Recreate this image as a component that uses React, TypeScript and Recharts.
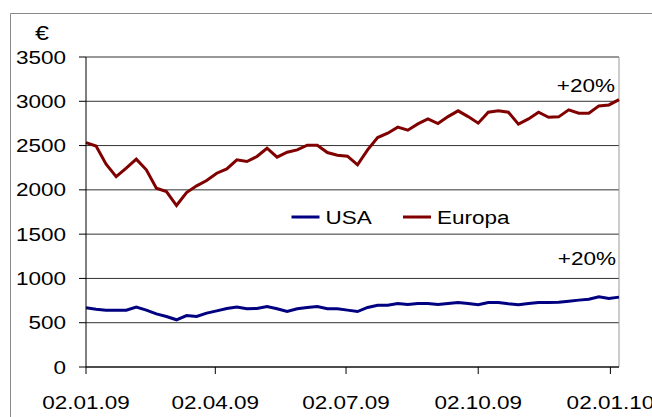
import { LineChart, Line, XAxis, YAxis, CartesianGrid, Legend, ReferenceLine } from "recharts";

// weekly closing values from 02.01.09 on
const usa = [
  668, 653, 642, 642, 642, 676, 642, 600, 570, 533,
  581, 570, 608, 634, 660, 676, 657, 660, 683, 657,
  626, 657, 672, 683, 657, 657, 642, 626, 672, 698,
  698, 717, 705, 717, 717, 705, 717, 728, 717, 702,
  728, 728, 713, 702, 717, 728, 728, 732, 743, 755,
  766, 792, 773, 789,
];
const europa = [
  2534, 2495, 2290, 2150, 2245, 2346, 2226, 2019, 1981, 1823,
  1970, 2045, 2105, 2188, 2237, 2339, 2320, 2377, 2470, 2369,
  2425, 2451, 2504, 2504, 2421, 2391, 2380, 2282, 2451, 2590,
  2640, 2708, 2674, 2745, 2801, 2748, 2827, 2892, 2827, 2753,
  2877, 2892, 2877, 2742, 2801, 2877, 2820, 2824, 2903, 2865,
  2865, 2948, 2959, 3019,
];
const seriesNames = ["USA", "Europa"];
const tickDays = [0, 90, 181, 273, 365];
const tickLabels = ["02.01.09", "02.04.09", "02.07.09", "02.10.09", "02.01.10"];
const yTicks = [0, 500, 1000, 1500, 2000, 2500, 3000, 3500];

const data = usa.map((u, i) => ({ day: i * 7, USA: u, Europa: europa[i] }));

const FONT = "'Liberation Sans', Arial, sans-serif";
const SX = 1.25;

const Stretched = ({ x, y, anchor, size = 18, children }: any) => (
  <g transform={`translate(${x},${y}) scale(${SX},1)`}>
    <text x={0} y={0} textAnchor={anchor} fontFamily={FONT} fontSize={size} fill="#000">
      {children}
    </text>
  </g>
);

const YTick = ({ y, payload }: any) => (
  <Stretched x={66} y={y + 6.5} anchor="end">{payload.value}</Stretched>
);

const XTick = ({ x, payload }: any) => (
  <Stretched x={x} y={409} anchor="middle">
    {tickLabels[tickDays.indexOf(payload.value)]}
  </Stretched>
);

const LegendBox = ({ payload }: any) => {
  const items = [...(payload || [])].sort(
    (a: any, b: any) => seriesNames.indexOf(a.value) - seriesNames.indexOf(b.value)
  );
  const starts = [1.5, 113];
  return (
    <svg width={240} height={24}>
      {items.map((it: any, i: number) => (
        <g key={it.value}>
          <line x1={starts[i]} x2={starts[i] + 28} y1={12} y2={12} stroke={it.color} strokeWidth={3} />
          <Stretched x={starts[i] + 34} y={18.5} anchor="start">{it.value}</Stretched>
        </g>
      ))}
    </svg>
  );
};

export default function App() {
  return (
    <div style={{ position: "fixed", left: 0, top: 0, width: 652, height: 417, overflow: "hidden", background: "#fff" }}>
      <div style={{ position: "absolute", left: 0, top: 0 }}>
        <LineChart width={652} height={417} data={data} margin={{ top: 57, right: 33, left: 0, bottom: 0 }}>
          <CartesianGrid horizontal vertical={false} stroke="#333" />
          <XAxis
            dataKey="day"
            type="number"
            domain={[0, 371]}
            ticks={tickDays}
            tick={<XTick />}
            tickSize={7}
            height={50}
            axisLine={{ stroke: "#000" }}
            tickLine={{ stroke: "#000" }}
          />
          <YAxis
            domain={[0, 3500]}
            ticks={yTicks}
            tick={<YTick />}
            tickSize={7}
            width={86}
            axisLine={{ stroke: "#000" }}
            tickLine={{ stroke: "#000" }}
          />
          <ReferenceLine x={371} stroke="#999" />
          <Legend
            layout="horizontal"
            verticalAlign="middle"
            align="center"
            content={<LegendBox />}
            wrapperStyle={{ left: 290, top: 205, width: 240, height: 24 }}
          />
          <Line type="linear" dataKey="USA" stroke="#000080" strokeWidth={3} dot={false} isAnimationActive={false} />
          <Line type="linear" dataKey="Europa" stroke="#800000" strokeWidth={3} dot={false} isAnimationActive={false} />
        </LineChart>
      </div>
      <svg width={652} height={417} style={{ position: "absolute", left: 0, top: 0, pointerEvents: "none" }}>
        <path d="M10.5,417 L10.5,13.5 L652,13.5" fill="none" stroke="#888" />
        <Stretched x={35} y={40} anchor="start" size={20}>€</Stretched>
        <Stretched x={615} y={91.5} anchor="end">+20%</Stretched>
        <Stretched x={616} y={264.5} anchor="end">+20%</Stretched>
      </svg>
    </div>
  );
}
